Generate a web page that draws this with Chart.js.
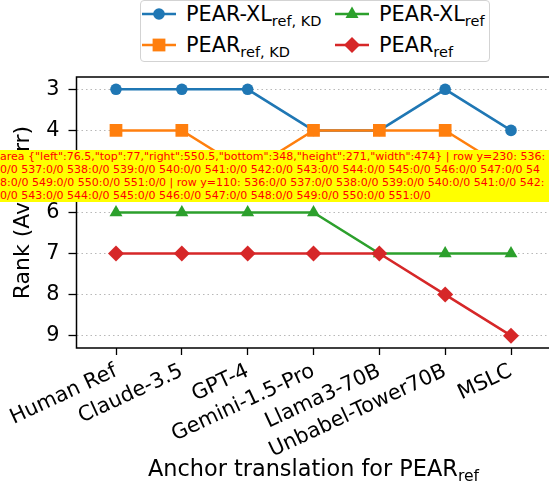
<!DOCTYPE html>
<html><head><meta charset="utf-8">
<script src="https://cdn.jsdelivr.net/npm/chart.js@4"></script>
<style>
html,body{margin:0;padding:0;background:#fff;overflow:hidden;}
#wrap{position:relative;width:549px;height:483px;overflow:hidden;font-family:"DejaVu Sans",sans-serif;color:#000;}
#c{position:absolute;left:0;top:0;}
.legend{position:absolute;left:140px;top:0px;width:350px;height:62px;border:1.3px solid #d3d3d3;border-radius:4px;box-sizing:border-box;background:#fff;}
.item{position:absolute;height:24px;display:flex;align-items:center;font-size:20.8px;white-space:nowrap;line-height:1;}
.item svg{margin-right:10px;flex:none;}
.sub{font-size:14.5px;position:relative;top:5px;}
.xt{position:absolute;left:0;width:627px;top:455px;text-align:center;font-size:22.4px;line-height:26px;white-space:nowrap;}
.xt .sub{font-size:15.6px;top:5px;}
#dbg{position:absolute;left:0;top:150px;width:549px;font-size:11px;color:red;background:#ff0;z-index:9;word-break:break-all;}
</style>
</head><body>
<div id="wrap">
<canvas id="c" width="600" height="483"></canvas>
<div class="legend">
  <div class="item" style="left:1px;top:1px;"><svg width="34" height="20"><line x1="0" y1="10" x2="34" y2="10" stroke="#1f77b4" stroke-width="2.5"/><circle cx="17" cy="10" r="5.8" fill="#1f77b4"/></svg><span>PEAR-XL<span class="sub">ref, KD</span></span></div>
  <div class="item" style="left:1px;top:32px;"><svg width="34" height="20"><line x1="0" y1="10" x2="34" y2="10" stroke="#ff7f0e" stroke-width="2.5"/><rect x="10.6" y="3.6" width="12.8" height="12.8" fill="#ff7f0e"/></svg><span>PEAR<span class="sub">ref, KD</span></span></div>
  <div class="item" style="left:194px;top:1px;"><svg width="34" height="20"><line x1="0" y1="10" x2="34" y2="10" stroke="#2ca02c" stroke-width="2.5"/><polygon points="17,2.5 23.5,14 10.5,14" fill="#2ca02c"/></svg><span>PEAR-XL<span class="sub">ref</span></span></div>
  <div class="item" style="left:194px;top:32px;"><svg width="34" height="20"><line x1="0" y1="10" x2="34" y2="10" stroke="#d62728" stroke-width="2.5"/><polygon points="17,2 25,10 17,18 9,10" fill="#d62728"/></svg><span>PEAR<span class="sub">ref</span></span></div>
</div>
<div class="xt">Anchor translation for PEAR<span class="sub">ref</span></div>
<div id="dbg"></div>
</div>
<script>
const categories = ["Human Ref","Claude-3.5","GPT-4","Gemini-1.5-Pro","Llama3-70B","Unbabel-Tower70B","MSLC"];
const pearXLrefKD = [3,3,3,4,4,3,4];
const pearRefKD   = [4,4,5,4,4,4,5];
const pearXLref   = [6,6,6,6,7,7,7];
const pearRef     = [7,7,7,7,7,8,9];
const yTicks = [3,4,5,6,7,8,9];

const TICKFONT = {family:'"DejaVu Sans", sans-serif', size:20.8};
const TITLEFONT = {family:'"DejaVu Sans", sans-serif', size:22};
const pts = arr => arr.map((v,i)=>({x:i,y:v}));
function ds(label, data, color, style, r, order){
  return {label, data:pts(data), borderColor:color, backgroundColor:color,
    pointBackgroundColor:color, pointBorderWidth:0, pointStyle:style,
    pointRadius:r, pointHoverRadius:r, borderWidth:2.5, tension:0, order, clip:false};
}
const frame = {id:'frame', afterDatasetsDraw(chart){
  const {ctx, chartArea:a} = chart;
  ctx.save(); ctx.strokeStyle='#000'; ctx.lineWidth=1.5;
  ctx.beginPath();
  ctx.moveTo(a.right, a.top); ctx.lineTo(a.left, a.top); ctx.lineTo(a.left, a.bottom); ctx.lineTo(a.right, a.bottom);
  ctx.stroke(); ctx.restore();
}};
const ch = new Chart(document.getElementById('c'), {
  type:'line',
  data:{datasets:[
    ds('PEAR-XL ref, KD', pearXLrefKD, '#1f77b4', 'circle', 5.8, 4),
    ds('PEAR ref, KD', pearRefKD, '#ff7f0e', 'rect', 9, 3),
    ds('PEAR-XL ref', pearXLref, '#2ca02c', 'triangle', 7.5, 2),
    ds('PEAR ref', pearRef, '#d62728', 'rectRot', 8, 1)
  ]},
  options:{
    responsive:false, animation:false, events:[],
    layout:{autoPadding:false, padding:{top:77,left:0,right:49.5,bottom:0}},
    plugins:{legend:{display:false}, tooltip:{enabled:false}},
    scales:{
      x:{type:'linear', min:-0.6, max:6.6,
        afterBuildTicks:s=>{ s.ticks = categories.map((c,i)=>({value:i})); },
        afterFit:s=>{ s.height = 135; s.paddingRight = 0; },
        ticks:{autoSkip:false, minRotation:25, maxRotation:25, padding:4, font:TICKFONT, color:'#000',
          callback:v=>categories[v]},
        grid:{drawOnChartArea:false, drawTicks:true, tickLength:7, tickColor:'#000', tickWidth:1.3},
        border:{display:false}
      },
      y:{type:'linear', reverse:true, min:2.7, max:9.3,
        afterBuildTicks:s=>{ s.ticks = yTicks.map(v=>({value:v})); },
        afterFit:s=>{ s.width = 76.5; s.paddingTop = 0; s.paddingBottom = 0; },
        ticks:{padding:9, font:TICKFONT, color:'#000', callback:v=>String(v)},
        grid:{color:'#b8b8b8', lineWidth:1, drawTicks:true, tickLength:8, tickColor:'#000', tickWidth:1.3, tickBorderDash:[]},
        border:{display:false, dash:[1.5,3]},
        title:{display:true, text:'Rank (Avg Corr)', font:TITLEFONT, color:'#000', padding:{top:10,bottom:0}}
      }
    }
  },
  plugins:[frame]
});
const c2 = ch.ctx;
let out = 'area ' + JSON.stringify(ch.chartArea) + ' | row y=230: ';
const d = c2.getImageData(536, 230, 16, 1).data;
for (let i=0;i<16;i++){ out += (536+i)+':'+d[i*4]+'/'+d[i*4+3]+' '; }
out += '| row y=110: ';
const e = c2.getImageData(536, 110, 16, 1).data;
for (let i=0;i<16;i++){ out += (536+i)+':'+e[i*4]+'/'+e[i*4+3]+' '; }
document.getElementById('dbg').textContent = out;
</script>
</body></html>
